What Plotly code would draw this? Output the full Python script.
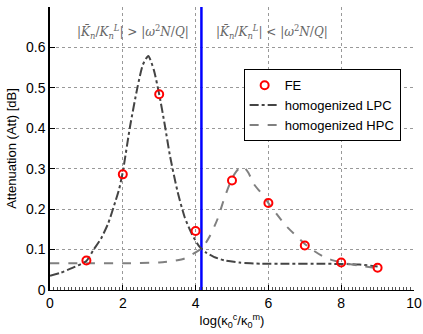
import plotly.graph_objects as go

# FE data
fe_x = [1, 2, 3, 4, 5, 6, 7, 8, 9]
fe_y = [0.073, 0.286, 0.484, 0.146, 0.271, 0.215, 0.110, 0.068, 0.055]

# homogenized LPC curve
lpc_x = [0, 0.3, 0.6, 1.0, 1.2, 1.4, 1.6, 1.8, 1.9, 2.0, 2.2, 2.4, 2.55, 2.7, 2.85, 3.0,
         3.15, 3.3, 3.5, 3.7, 3.9, 4.1, 4.3, 4.5, 4.8, 5.2, 5.8, 6.5, 7.5, 8.5, 9.0]
lpc_y = [0.035, 0.043, 0.054, 0.072, 0.100, 0.127, 0.165, 0.220, 0.250, 0.292, 0.405, 0.500,
         0.557, 0.579, 0.545, 0.484, 0.410, 0.330, 0.245, 0.180, 0.138, 0.108, 0.092, 0.082,
         0.073, 0.068, 0.065, 0.065, 0.065, 0.063, 0.058]

# homogenized HPC curve
hpc_x = [0, 1, 2, 3, 3.4, 3.7, 4.0, 4.2, 4.4, 4.6, 4.8, 5.0, 5.15, 5.3, 5.45, 5.6, 5.8, 6.0,
         6.25, 6.5, 6.75, 7.0, 7.25, 7.5, 7.75, 8.0, 8.5, 9.0]
hpc_y = [0.066, 0.066, 0.066, 0.068, 0.072, 0.078, 0.093, 0.106, 0.135, 0.175, 0.230, 0.276,
         0.297, 0.306, 0.290, 0.262, 0.240, 0.215, 0.185, 0.157, 0.135, 0.114, 0.097, 0.083,
         0.074, 0.068, 0.060, 0.054]

# regime boundary
boundary_x = [4.16, 4.16]
boundary_y = [0, 0.7]

x_ticks = [0, 2, 4, 6, 8, 10]
y_ticks = [0, 0.1, 0.2, 0.3, 0.4, 0.5, 0.6]
y_tick_text = ["0", "0.1", "0.2", "0.3", "0.4", "0.5", "0.6"]

font = "Liberation Sans, Arial, sans-serif"

fig = go.Figure()
fig.add_trace(go.Scatter(x=boundary_x, y=boundary_y, mode="lines",
                         line=dict(color="#0000ff", width=2.5), showlegend=False,
                         hoverinfo="skip"))
fig.add_trace(go.Scatter(x=lpc_x, y=lpc_y, mode="lines", name="homogenized LPC",
                         legendrank=2,
                         line=dict(color="#444444", width=2, dash="dashdot", shape="spline",
                                   smoothing=0.6)))
fig.add_trace(go.Scatter(x=hpc_x, y=hpc_y, mode="lines", name="homogenized HPC",
                         legendrank=3,
                         line=dict(color="#808080", width=2, dash="dash", shape="spline",
                                   smoothing=0.6)))
fig.add_trace(go.Scatter(x=fe_x, y=fe_y, mode="markers", name="FE", legendrank=1,
                         marker=dict(symbol="circle-open", color="#ff0000", size=8,
                                     line=dict(width=2, color="#ff0000"))))

ann_font = dict(family="DejaVu Serif, serif", size=12, color="#666666")
fig.add_annotation(x=2.28, y=0.638, xref="x", yref="y", showarrow=False,
                   text="|<i>K̄<sub>n</sub></i>/<i>K<sub>n</sub><sup>L</sup></i>| &gt; |<i>ω</i><sup>2</sup><i>N</i>/<i>Q</i>|",
                   font=ann_font)
fig.add_annotation(x=6.1, y=0.638, xref="x", yref="y", showarrow=False,
                   text="|<i>K̄<sub>n</sub></i>/<i>K<sub>n</sub><sup>L</sup></i>| &lt; |<i>ω</i><sup>2</sup><i>N</i>/<i>Q</i>|",
                   font=ann_font)

fig.update_layout(
    width=423, height=334,
    margin=dict(l=50, r=9, t=7, b=44, autoexpand=False),
    paper_bgcolor="white", plot_bgcolor="white",
    font=dict(family=font, size=14, color="black"),
    legend=dict(x=0.532, y=0.78, xanchor="left", yanchor="top",
                bgcolor="white", bordercolor="black", borderwidth=1,
                font=dict(size=13), tracegroupgap=0, itemwidth=30),
    showlegend=True,
)
fig.update_xaxes(range=[0, 10], tickvals=x_ticks, showline=True, linecolor="black",
                 linewidth=1, ticks="inside", ticklen=5, tickcolor="black",
                 showgrid=True, gridcolor="#999999", griddash="dot", gridwidth=1,
                 zeroline=False, mirror=False, automargin=False,
                 minor=dict(dtick=0.1, ticks="inside", ticklen=3, tickcolor="#555555", showgrid=False),
                 title=dict(text="log(κ<sub>0</sub><sup>c</sup>/κ<sub>0</sub><sup>m</sup>)",
                            font=dict(size=13), standoff=6))
fig.update_yaxes(range=[0, 0.7], tickvals=y_ticks, ticktext=y_tick_text, showline=True,
                 linecolor="black", linewidth=1.5, ticks="inside", ticklen=5, tickcolor="black",
                 showgrid=True, gridcolor="#999999", griddash="dot", gridwidth=1,
                 zeroline=False, automargin=False,
                 title=dict(text="Attenuation (Att) [dB]", font=dict(size=13), standoff=6))

fig.write_html("out.html", config={"displayModeBar": False},
               post_script="document.body.style.margin='0px';")
